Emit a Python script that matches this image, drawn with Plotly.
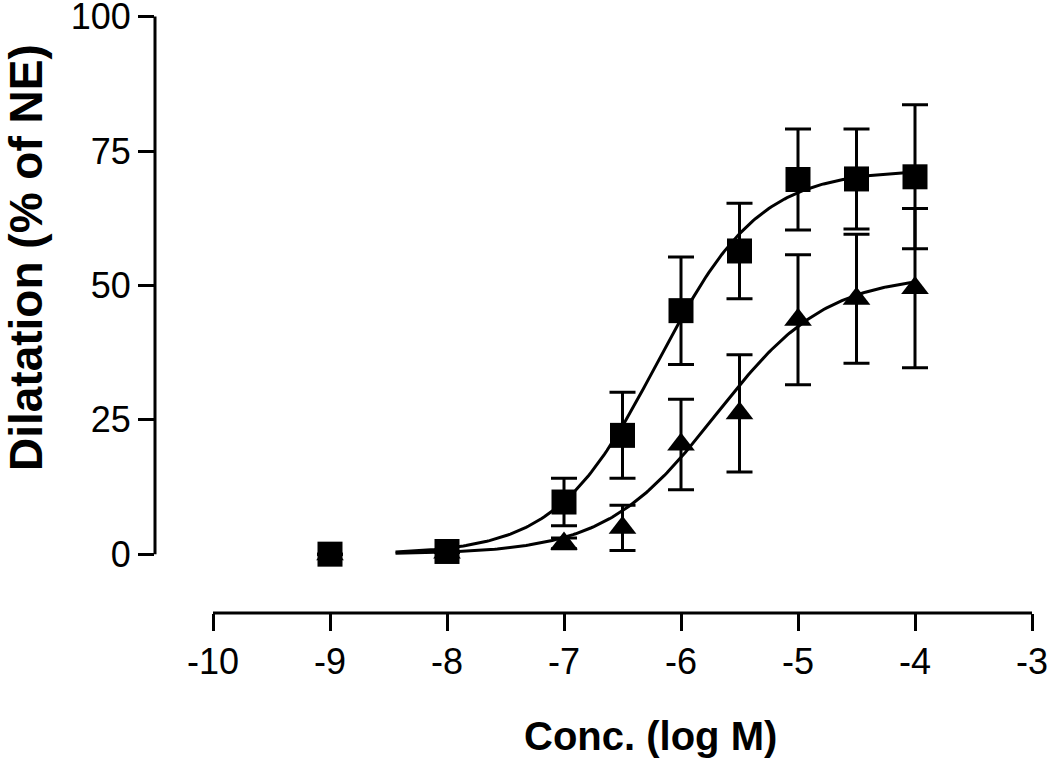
import numpy as np
import plotly.graph_objects as go

# ---- data ----
conc = [-9, -8, -7, -6.5, -6, -5.5, -5, -4.5, -4]
sq_mean = [0, 0.5, 9.7, 22.1, 45.3, 56.4, 69.7, 69.8, 70.2]
sq_err = [0, 0, 4.4, 8.0, 10.0, 8.9, 9.4, 9.3, 13.4]
tri_mean = [0, 0.3, 2.0, 4.9, 20.4, 26.2, 43.6, 47.5, 49.5]
tri_err = [0, 0, 1.0, 4.2, 8.4, 10.9, 12.1, 12.0, 14.8]

# fitted sigmoid (4-parameter logistic) parameters
sq_fit = dict(bottom=0.0, top=71.5, logec50=-6.2, hill=1.0)
tri_fit = dict(bottom=0.0, top=52.0, logec50=-5.7, hill=0.92)
fit_range = [-8.44, -4.0]

x_ticks = [-10, -9, -8, -7, -6, -5, -4, -3]
y_ticks = [0, 25, 50, 75, 100]
x_title = "Conc. (log M)"
y_title = "Dilatation (% of NE)"


def logistic(x, p):
    return p["bottom"] + (p["top"] - p["bottom"]) / (1 + 10 ** (p["hill"] * (p["logec50"] - x)))


xf = np.linspace(fit_range[0], fit_range[1], 200)

FONT = "Liberation Sans, Arial, Helvetica, sans-serif"
fig = go.Figure()

fig.add_trace(go.Scatter(x=xf, y=logistic(xf, sq_fit), mode="lines",
                         line=dict(color="black", width=3), hoverinfo="skip"))
fig.add_trace(go.Scatter(x=xf, y=logistic(xf, tri_fit), mode="lines",
                         line=dict(color="black", width=3), hoverinfo="skip"))

fig.add_trace(go.Scatter(x=conc, y=tri_mean, mode="markers",
                         marker=dict(symbol="triangle-up", size=24, color="black"),
                         error_y=dict(type="data", array=tri_err, color="black",
                                      thickness=3, width=13)))
fig.add_trace(go.Scatter(x=conc, y=sq_mean, mode="markers",
                         marker=dict(symbol="square", size=25, color="black"),
                         error_y=dict(type="data", array=sq_err, color="black",
                                      thickness=3, width=13)))

W, H = 1050, 761
L, T = 155, 15
R = W - 1032
B = H - 613
plot_w = W - L - R
plot_h = H - T - B
x_lo = -10 - 58 / 117.0
y_lo = -(613 - 554) / 5.39

fig.update_layout(
    width=W, height=H, margin=dict(l=L, r=R, t=T, b=B, autoexpand=False),
    paper_bgcolor="white", plot_bgcolor="white", showlegend=False,
    font=dict(family=FONT, color="black"),
    xaxis=dict(range=[x_lo, -3], tickvals=x_ticks, ticktext=[str(v) for v in x_ticks],
               showgrid=False, zeroline=False, showline=False, automargin=False,
               ticks="outside", ticklen=17, tickwidth=3, tickcolor="black",
               ticklabeloverflow="allow",
               tickfont=dict(size=36, family=FONT)),
    yaxis=dict(range=[y_lo, 100.3], tickvals=y_ticks, ticktext=[str(v) for v in y_ticks],
               showgrid=False, zeroline=False, showline=False, automargin=False,
               ticks="outside", ticklen=16, tickwidth=3, tickcolor="black",
               ticklabeloverflow="allow",
               tickfont=dict(size=36, family=FONT)),
)

# axis lines (the y axis stops at 0; the x axis is offset below)
fig.add_shape(type="line", xref="paper", yref="y", x0=0, x1=0, y0=0, y1=100,
              line=dict(color="black", width=3))
fig.add_shape(type="line", xref="x", yref="paper", x0=-10, x1=-3, y0=0, y1=0,
              line=dict(color="black", width=3))

fig.add_annotation(text="<b>" + y_title + "</b>", xref="paper", yref="paper",
                   x=(26 - L) / plot_w, y=(613 - 258) / plot_h, textangle=-90,
                   showarrow=False, xanchor="center", yanchor="middle",
                   font=dict(size=46, family=FONT, color="black"))
fig.add_annotation(text="<b>" + x_title + "</b>", xref="paper", yref="paper",
                   x=(650 - L) / plot_w, y=(613 - 736) / plot_h,
                   showarrow=False, xanchor="center", yanchor="middle",
                   font=dict(size=40, family=FONT, color="black"))

# remove the default page margin so the figure fills the window exactly
fig.write_html("out.html", config={"displayModeBar": False},
               post_script="document.body.style.margin='0';document.body.style.overflow='hidden';")
